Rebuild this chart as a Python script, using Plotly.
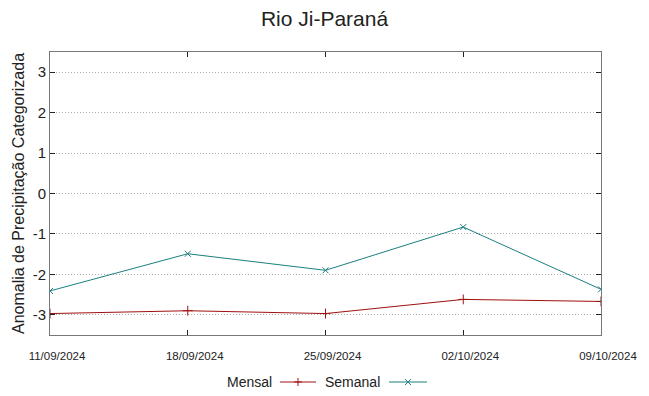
import plotly.graph_objects as go

dates = ["2024-09-11", "2024-09-18", "2024-09-25", "2024-10-02", "2024-10-09"]
tick_labels = ["11/09/2024", "18/09/2024", "25/09/2024", "02/10/2024", "09/10/2024"]
mensal = [-2.97, -2.90, -2.97, -2.62, -2.67]
semanal = [-2.41, -1.49, -1.90, -0.83, -2.37]
y_ticks = [-3, -2, -1, 0, 1, 2, 3]
y_tick_labels = ["-3", "-2", "-1", "0", "1", "2", "3"]

RED = "#a01010"
TEAL = "#1b7f7f"
FONT = "Liberation Sans, Arial, sans-serif"

W, H = 649, 396
L, R, T, B = 50, 48, 52, 61
pw, ph = W - L - R, H - T - B

def px2paper_x(px):
    return (px - L) / pw

def py2paper_y(py):
    return (H - B - py) / ph

fig = go.Figure()
fig.add_trace(go.Scatter(
    x=dates, y=mensal, mode="lines+markers", name="Mensal",
    line=dict(color=RED, width=1),
    marker=dict(symbol="cross-thin", size=7, line=dict(color=RED, width=1), color=RED),
    showlegend=False,
))
fig.add_trace(go.Scatter(
    x=dates, y=semanal, mode="lines+markers", name="Semanal",
    line=dict(color=TEAL, width=1),
    marker=dict(symbol="x-thin", size=6, line=dict(color=TEAL, width=1), color=TEAL),
    showlegend=False,
))

# Manual gnuplot-style legend (text then sample)
ly = py2paper_y(382)
legend_items = [("Mensal", RED, "plus", 274, 280, 316),
                ("Semanal", TEAL, "x", 382, 389, 427)]
for name, col, sym, tx, x0, x1 in legend_items:
    fig.add_annotation(text=name, xref="paper", yref="paper",
                       x=px2paper_x(tx), y=ly, xanchor="right", yanchor="middle",
                       showarrow=False, font=dict(size=14, color="#222", family=FONT))
    fig.add_shape(type="line", xref="paper", yref="paper",
                  x0=px2paper_x(x0), x1=px2paper_x(x1), y0=ly, y1=ly,
                  line=dict(color=col, width=1))
    cx = px2paper_x((x0 + x1) / 2)
    if sym == "plus":
        segs = [(-4, 0, 4, 0), (0, -4, 0, 4)]
    else:
        segs = [(-3, -3, 3, 3), (-3, 3, 3, -3)]
    for a, b, c, d in segs:
        fig.add_shape(type="line", xref="paper", yref="paper",
                      xsizemode="pixel", ysizemode="pixel",
                      xanchor=cx, yanchor=ly, x0=a, y0=b, x1=c, y1=d,
                      line=dict(color=col, width=1))

fig.update_layout(
    width=W, height=H,
    margin=dict(l=L, r=R, t=T, b=B),
    paper_bgcolor="white", plot_bgcolor="white",
    title=dict(text="Rio Ji-Paraná", x=0.5, xanchor="center", y=1 - 19 / H, yanchor="middle",
               font=dict(size=21, color="#222", family=FONT)),
    font=dict(family=FONT, color="#222"),
    xaxis=dict(
        type="date", range=[dates[0], dates[-1]],
        tickvals=dates, ticktext=tick_labels,
        tickfont=dict(size=11.5, family=FONT, color="#222"),
        ticklabelshift=7, ticklabelstandoff=10,
        ticks="inside", ticklen=5, tickcolor="#222", mirror="allticks",
        showline=True, linecolor="#777", linewidth=1,
        showgrid=False, zeroline=False,
    ),
    yaxis=dict(
        range=[-3.5, 3.5], tickvals=y_ticks, ticktext=y_tick_labels,
        tickfont=dict(size=15, family=FONT, color="#222"),
        ticks="inside", ticklen=5, tickcolor="#222", mirror="allticks",
        showline=True, linecolor="#777", linewidth=1,
        showgrid=True, gridcolor="#b0b0b0", griddash="1px,2px", gridwidth=1,
        zeroline=False,
        title=dict(text="Anomalia de Precipitação Categorizada", standoff=4,
                   font=dict(size=16, family=FONT, color="#222")),
    ),
)

fig.write_html("out.html", config={"displayModeBar": False})
with open("out.html", "r", encoding="utf-8") as f:
    html = f.read()
html = html.replace("<body>", '<body style="margin:0;padding:0;">', 1)
with open("out.html", "w", encoding="utf-8") as f:
    f.write(html)
